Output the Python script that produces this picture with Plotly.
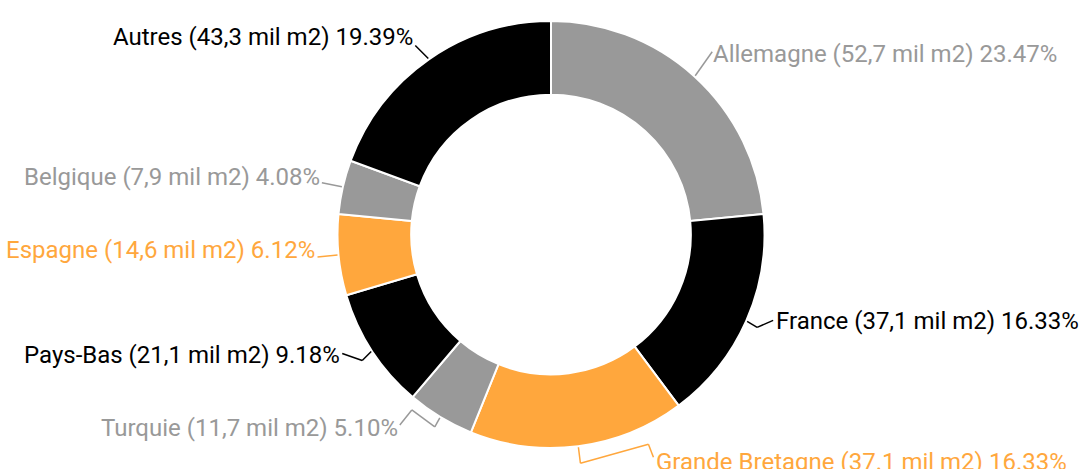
import math
import plotly.graph_objects as go

# ---- data ----
countries = ["Allemagne", "France", "Grande Bretagne", "Turquie", "Pays-Bas", "Espagne", "Belgique", "Autres"]
surface_labels = ["52,7", "37,1", "37.1", "11,7", "21,1", "14,6", "7,9", "43,3"]
counts = [23, 16, 16, 5, 9, 6, 4, 19]
percent_labels = ["23.47%", "16.33%", "16.33%", "5.10%", "9.18%", "6.12%", "4.08%", "19.39%"]

# ---- style ----
GRAY = "#999999"
BLACK = "#000000"
ORANGE = "#FFA73D"
colors = [GRAY, BLACK, ORANGE, GRAY, BLACK, ORANGE, GRAY, BLACK]

FIG_W, FIG_H = 1084, 469
M_L, M_R, M_T, M_B = 118, 100, 21, 21
PW, PH = FIG_W - M_L - M_R, FIG_H - M_T - M_B
CX = M_L + PW / 2
CY = M_T + PH / 2
R = min(PW, PH) / 2
HOLE = 0.655
FONT_SIZE = 24

# leader-line bends (offsets in px from the slice's outer edge point) and label anchor offsets
leader_layout = {
    "Allemagne": dict(path=[(17, -24)], label=(17, -22), side="left"),
    "France": dict(path=[(10, 6), (26, -1)], label=(28, 0), side="left"),
    "Grande Bretagne": dict(path=[(2, 16), (70, -3), (75, 10)], label=(77, 15), side="left"),
    "Turquie": dict(path=[(-5, 9), (-28, -8), (-40, 7)], label=(-41, 10), side="right"),
    "Pays-Bas": dict(path=[(-9, 9), (-29, 2)], label=(-30, 3), side="right"),
    "Espagne": dict(path=[(-20, 2)], label=(-21, -5), side="right"),
    "Belgique": dict(path=[(-20, -4)], label=(-21, -10), side="right"),
    "Autres": dict(path=[(-13, -13)], label=(-14, -22), side="right"),
}


def to_paper(px, py):
    return (px - M_L) / PW, 1 - (py - M_T) / PH


fig = go.Figure(
    go.Pie(
        labels=countries,
        values=counts,
        sort=False,
        direction="clockwise",
        rotation=0,
        hole=HOLE,
        textinfo="none",
        marker=dict(colors=colors, line=dict(color="#ffffff", width=2)),
        hovertemplate="%{label}<extra></extra>",
        showlegend=False,
    )
)

total = sum(counts)
cum = 0
shapes = []
annotations = []
for name, surf, cnt, pct, col in zip(countries, surface_labels, counts, percent_labels, colors):
    mid = (cum + cnt / 2) / total * 2 * math.pi
    cum += cnt
    x0 = CX + (R + 1) * math.sin(mid)
    y0 = CY - (R + 1) * math.cos(mid)
    lay = leader_layout[name]
    pts = [(x0, y0)] + [(x0 + dx, y0 + dy) for dx, dy in lay["path"]]
    for (ax, ay), (bx, by) in zip(pts[:-1], pts[1:]):
        pa, qa = to_paper(ax, ay)
        pb, qb = to_paper(bx, by)
        shapes.append(dict(type="line", xref="paper", yref="paper", x0=pa, y0=qa, x1=pb, y1=qb,
                           line=dict(color=col, width=1.5)))
    lx, ly = to_paper(x0 + lay["label"][0], y0 + lay["label"][1])
    annotations.append(dict(
        xref="paper", yref="paper", x=lx, y=ly,
        xanchor=lay["side"], yanchor="middle",
        text=f"{name} ({surf} mil m2) {pct}",
        showarrow=False,
        font=dict(family="Roboto", size=FONT_SIZE, color=col),
        borderpad=0,
    ))

fig.update_layout(
    width=FIG_W, height=FIG_H,
    margin=dict(l=M_L, r=M_R, t=M_T, b=M_B),
    paper_bgcolor="#ffffff",
    plot_bgcolor="#ffffff",
    shapes=shapes,
    annotations=annotations,
)

fig.write_html("out.html")
